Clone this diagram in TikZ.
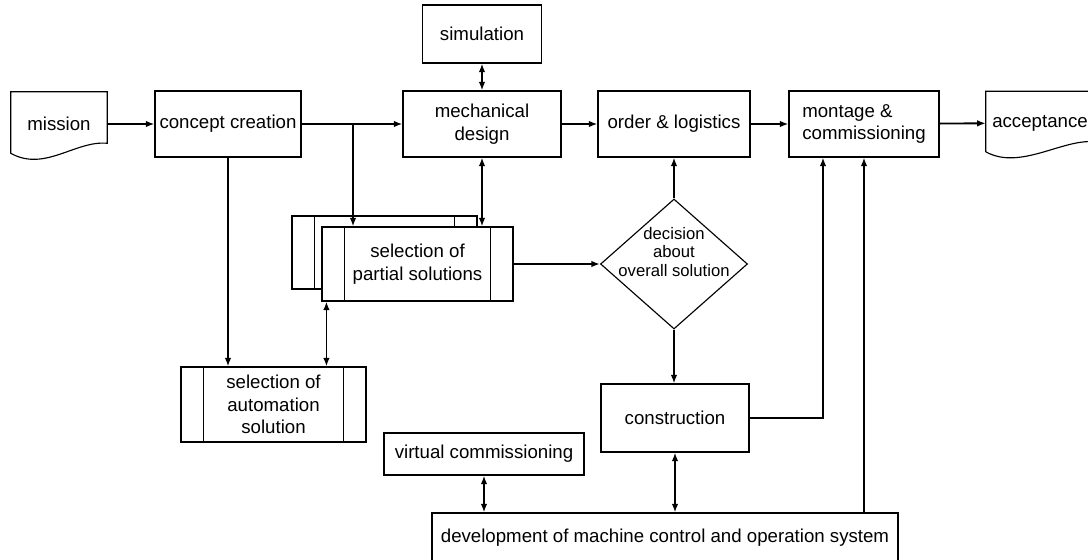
\documentclass[tikz,border=0pt]{standalone}
\usepackage{fontspec}
\setmainfont{Liberation Sans}
\usetikzlibrary{shapes.geometric,arrows.meta,calc}

\tikzset{
  boxline/.style={draw, line width=0.85pt},
  stepbox/.style={boxline, fill=white, inner sep=0pt, align=center,
    font=\fontsize{14}{17}\selectfont},
  plainnode/.style={inner sep=0pt, align=center,
    font=\fontsize{14}{17}\selectfont},
  decbox/.style={boxline, diamond, inner sep=0pt},
  dtext/.style={align=center, inner sep=0pt, yshift=9pt,
    font=\fontsize{12.5}{13.9}\selectfont},
  arr/.style={line width=1.4pt, -{Latex[length=6.5pt,width=5pt]}},
  darr/.style={line width=1.4pt, {Latex[length=6.5pt,width=5pt]}-{Latex[length=6.5pt,width=5pt]}}
}

\begin{document}
\begin{tikzpicture}[x=0.75pt, y=-0.75pt]
   \newcommand{\docline}[1]{
        \draw[boxline] ($(#1.south west)+(0,-3)$) -- (#1.north west) -- (#1.north east)
          -- ($(#1.south east)+(0,-13)$)
          .. controls ($(#1.south east)+(-32,-16)$) and ($(#1.south west)+(34,16)$)
          .. ($(#1.south west)+(0,-3)$);
    }
    \newcommand{\procbars}[1]{
        \draw[boxline] ([xshift=17.6pt]#1.north west) -- ([xshift=17.6pt]#1.south west);
        \draw[boxline] ([xshift=-17.6pt]#1.north east) -- ([xshift=-17.6pt]#1.south east);
    }
  \useasboundingbox (0,0) rectangle (1088,560);
  \clip (0,0) rectangle (1088,560);

  \node[plainnode, minimum width=72pt, minimum height=48pt] (mission) at (59,124) {mission};
  \docline{mission}
  \node[stepbox, minimum width=109.5pt, minimum height=49.5pt] (concept) at (228,124) {concept creation};
  \node[stepbox, minimum width=89.25pt, minimum height=43.5pt] (sim) at (482,34) {simulation};
  \node[stepbox, minimum width=118.5pt, minimum height=49.5pt] (mech) at (482,124) {mechanical\\design};
  \node[stepbox, minimum width=114pt, minimum height=49.5pt] (order) at (674,124) {order \& logistics};
  \node[stepbox, minimum width=112.5pt, minimum height=49.5pt, align=left] (montage) at (864,124) {montage \&\\commissioning};
  \node[plainnode, minimum width=81pt, minimum height=47.25pt] (accept) at (1040,123) {acceptance};
  \docline{accept}

  \node[stepbox, minimum width=138.75pt, minimum height=54.75pt] (partback) at (384.5,252.5) {};
  \procbars{partback}
  \node[stepbox, minimum width=143.25pt, minimum height=55.5pt] (partial) at (417.5,264) {selection of\\partial solutions};
  \procbars{partial}
  \node[stepbox, minimum width=138.75pt, minimum height=56.25pt] (auto) at (273.5,404.5) {selection of\\automation\\solution};
  \procbars{auto}

  \node[decbox, minimum width=110.25pt, minimum height=97.5pt,
    label={[dtext]center:decision\\about\\overall solution}] (dec) at (674,264) {};
  \node[stepbox, minimum width=111pt, minimum height=51pt] (constr) at (675,418) {construction};
  \node[stepbox, minimum width=150pt, minimum height=31.5pt] (virt) at (484,454) {virtual commissioning};
  \node[stepbox, minimum width=349.5pt, minimum height=36.75pt] (dev) at (665,537.5) {development of machine control and operation system};

  \coordinate (split) at (353,124);

  \draw[arr] (mission) -- (concept);
  \draw[arr] (concept) -- (mech);
  \draw[arr] (split) -- (split |- partial.north);
  \draw[darr] (sim) -- (mech);
  \draw[darr] (mech.south) -- (mech.south |- partial.north);
  \draw[arr] (mech) -- (order);
  \draw[arr] (order) -- (montage);
  \draw[arr] (montage) -- (accept);
  \draw[arr] (partial) -- (dec);
  \draw[arr] (dec) -- (order);
  \draw[arr] (dec.south) -- (dec.south |- constr.north);
  \draw[arr] (constr) -| ($(montage.south)+(-41,0)$);
  \draw[arr] (dev.north -| montage) -- (montage);
  \draw[arr] (concept) -- (concept |- auto.north);
  \draw[darr] ([xshift=3.75pt]partial.south west) -- ([xshift=3.75pt]partial.south west |- auto.north);
  \draw[darr] (virt) -- (virt |- dev.north);
  \draw[darr] (constr) -- (constr |- dev.north);
\end{tikzpicture}
\end{document}
